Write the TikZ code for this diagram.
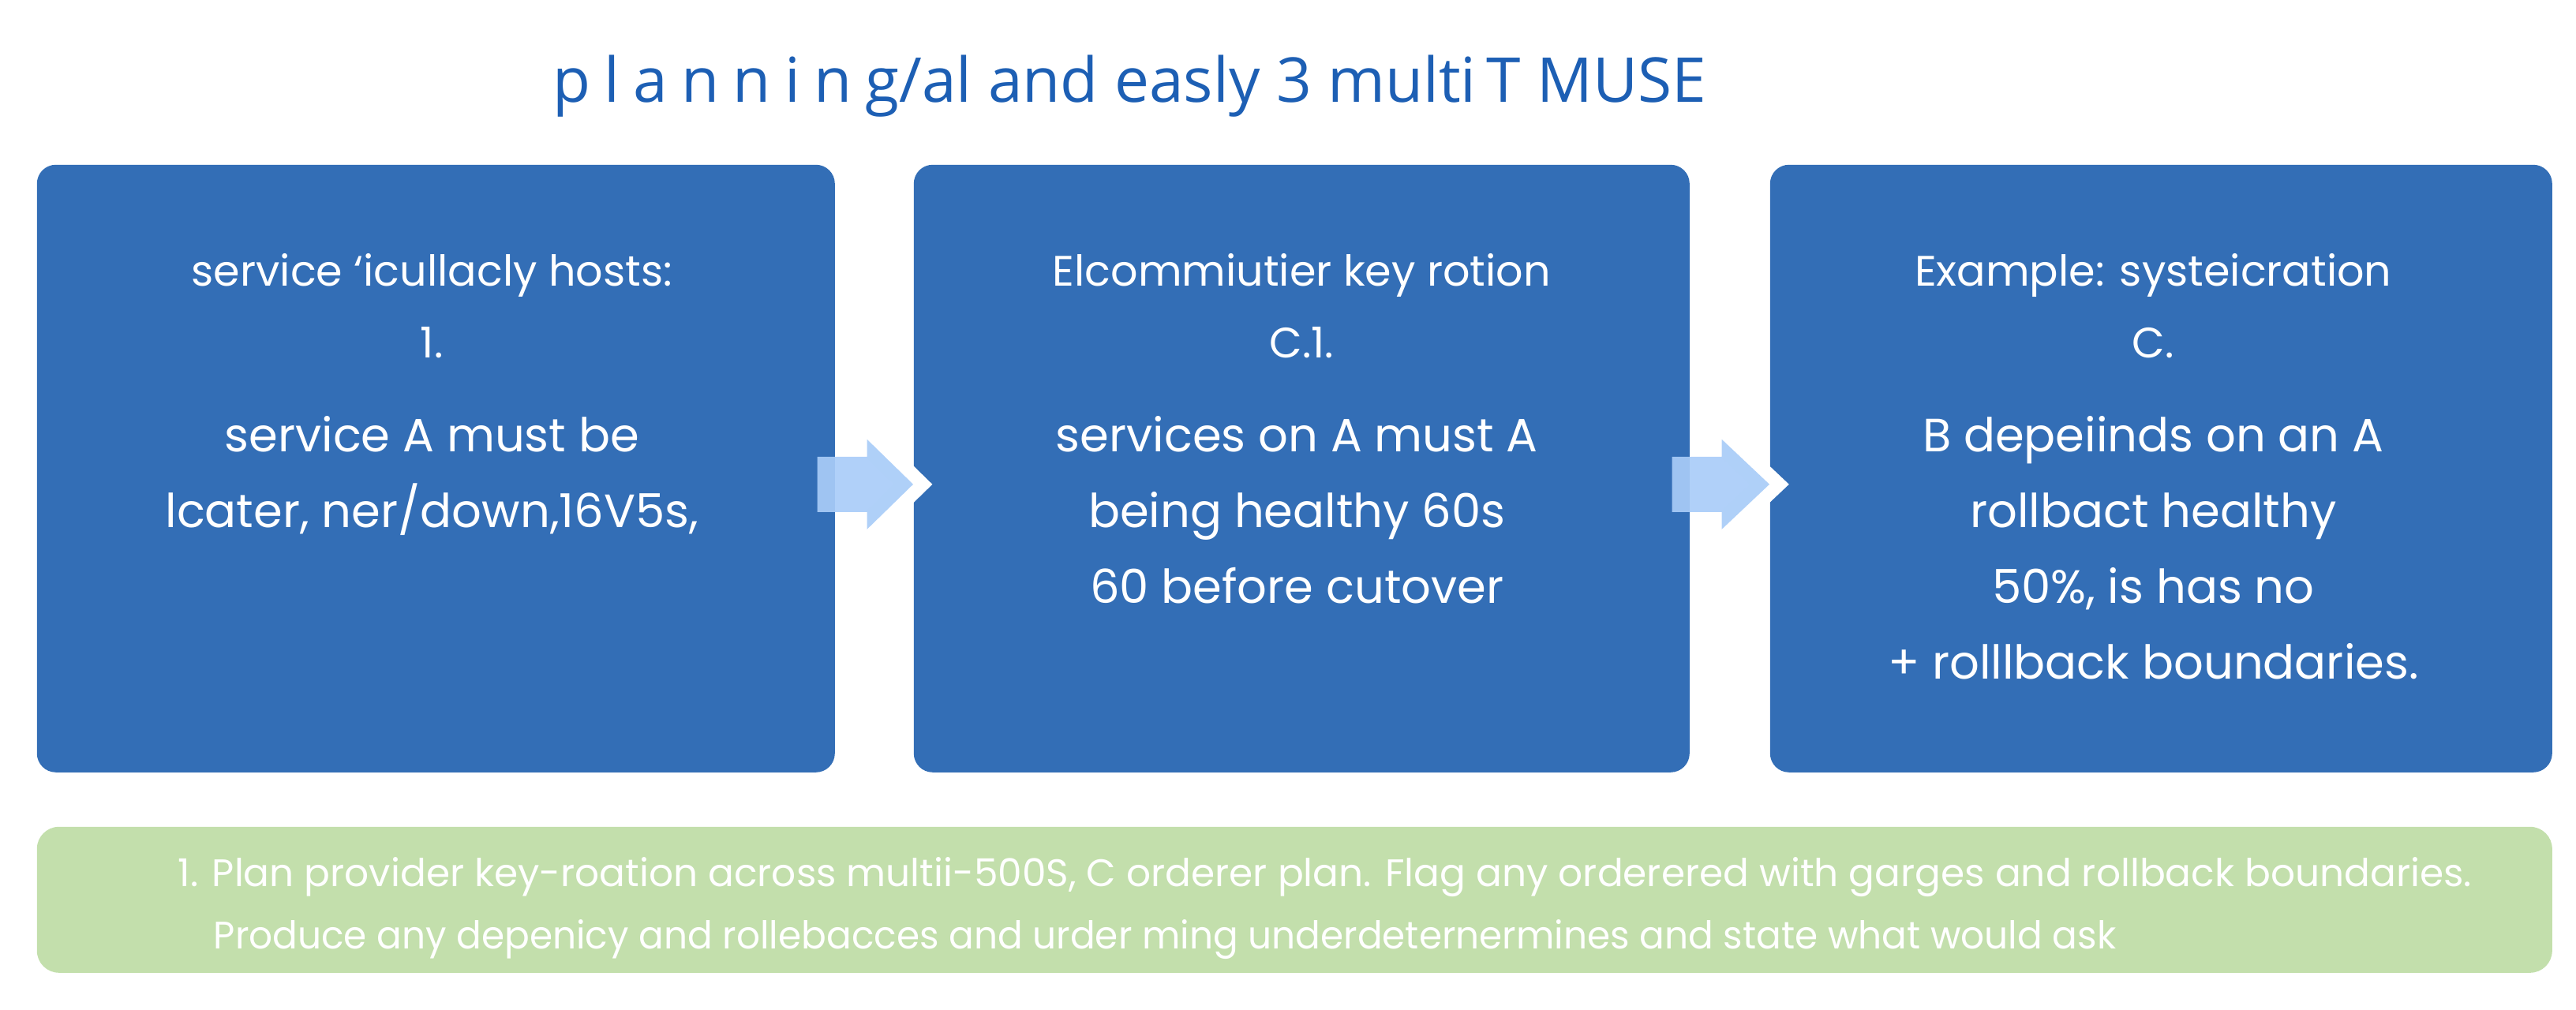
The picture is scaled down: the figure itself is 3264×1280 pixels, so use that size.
\documentclass[tikz,border=0pt]{standalone}
\usepackage{fontspec}
\setmainfont{Lato}
\newfontfamily\titlefont{Open Sans}
\newfontfamily\stepfont{Poppins}
\usetikzlibrary{positioning,calc}
\definecolor{BoxBlue}{HTML}{336EB6}
\definecolor{TitleBlue}{HTML}{1D5FB4}
\definecolor{ArrowBlue}{HTML}{A9CCF8}
\definecolor{NoteGreen}{HTML}{C3DFAC}

\begin{document}
\begin{tikzpicture}[x=0.25pt, y=-0.25pt,
        box/.style={fill=BoxBlue, rounded corners=6pt, minimum height=192.5pt,
                    inner sep=0pt, anchor=north west},
        head/.style={text=white, font=\stepfont\fontsize{13.5}{22.75}\selectfont,
                     align=center, inner sep=0pt, anchor=north},
        body/.style={text=white, font=\stepfont\fontsize{14.8}{24}\selectfont,
                     align=center, inner sep=0pt, anchor=north},
        flow/.style={fill=ArrowBlue, fill opacity=0.92},
        notch/.style={draw=white, line width=8.5pt, miter limit=10},
        note/.style={text=white, font=\stepfont\fontsize{12.15}{19.75}\selectfont,
                     align=left, inner sep=0pt, anchor=north west},
      ]
      \useasboundingbox (0,0) rectangle (3264,1280);
      % title
      \node[text=TitleBlue, font=\titlefont\fontsize{19.6}{21}\selectfont, anchor=base] (ttl) at (1431,130)
        {{\addfontfeature{LetterSpace=22}planning}/al and easly 3 multi\,T MUSE};
      % the three steps
      \node[box, minimum width=252.75pt] (svc) at (46,208) {};
      \node[box, minimum width=245.75pt] (rot) at (1157,208) {};
      \node[box, minimum width=247.75pt] (dep) at (2242,208) {};
      \node[head] (svc-h) at ($(svc.north)+(-5,113)$) {service ‘icullacly hosts:\\1.};
      \node[body] (svc-b) at ($(svc.north)+(-5,319)$) {service A must be\\lcater, ner/down,16V5s,};
      \node[head] (rot-h) at ($(rot.north)+(0,113)$) {Elcommiutier key rotion\\C.1.};
      \node[body] (rot-b) at ($(rot.north)+(-6,319)$) {services on A must A\\being healthy 60s\\60 before cutover};
      \node[head] (dep-h) at ($(dep.north)+(-10,113)$) {Example: systeicration\\C.};
      \node[body] (dep-b) at ($(dep.north)+(-10,319)$) {B depeiinds on an A\\rollbact healthy\\50\%, is has no\\+ rolllback boundaries.};
      % arrows between steps
      \foreach \a/\b in {svc/rot, rot/dep} {
        \coordinate (s) at ($(\a.east)+(-23,20)$);
        \coordinate (h) at ($(\a.east)+(40,20)$);
        \coordinate (t) at ($(\b.west)+(0,20)$);
        \draw[notch] ($(h)+(0,-57)$) -- (t) -- ($(h)+(0,57)$);
        \fill[flow] ($(s)+(0,-35)$) -- ($(h)+(0,-35)$) -- ($(h)+(0,-57)$) -- (t)
          -- ($(h)+(0,57)$) -- ($(h)+(0,35)$) -- ($(s)+(0,35)$) -- cycle;
      }
      % task bar
      \node[fill=NoteGreen, rounded corners=7pt, minimum width=796.75pt,
            minimum height=46.25pt, inner sep=0pt, anchor=north west] (task) at (46,1047) {};
      \node[note] (task-t) at (225,1086)
        {1. Plan provider key-roation across multii-500S, C orderer plan. Flag any orderered with garges and rollback boundaries.\\
         \hspace{11.25pt}\scalebox{0.967}[1]{Produce any depenicy and rollebacces and urder ming underdeternermines and state what would ask}};
    \end{tikzpicture}
\end{document}
